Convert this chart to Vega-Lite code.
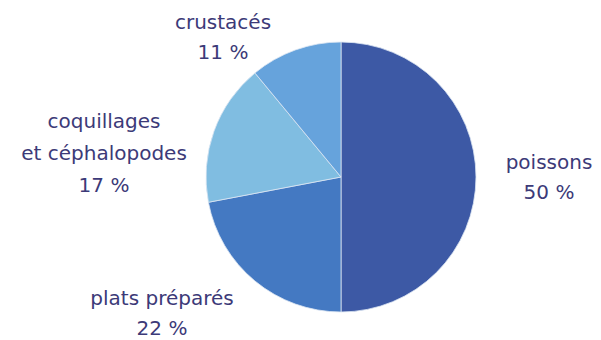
{
  "$schema": "https://vega.github.io/schema/vega-lite/v6.json",
  "width": 520,
  "height": 326,
  "autosize": {"type": "none"},
  "padding": {"left": 81, "top": 14, "right": 0, "bottom": 0},
  "background": "white",
  "view": {"stroke": null},
  "data": {
    "values": [
      {"cat": "poissons", "pct": 50, "ord": 1, "label": "poissons\n50 %"},
      {"cat": "plats préparés", "pct": 22, "ord": 2, "label": "plats préparés\n22 %"},
      {"cat": "coquillages et céphalopodes", "pct": 17, "ord": 3, "label": "coquillages\net céphalopodes\n17 %"},
      {"cat": "crustacés", "pct": 11, "ord": 4, "label": "crustacés\n11 %"}
    ]
  },
  "layer": [
    {
      "mark": {"type": "arc", "outerRadius": 135, "stroke": "#dce6f2", "strokeWidth": 0.8},
      "encoding": {
        "theta": {"field": "pct", "type": "quantitative", "stack": true},
        "order": {"field": "ord", "type": "quantitative"},
        "color": {
          "field": "cat", "type": "nominal", "legend": null,
          "scale": {
            "domain": ["poissons", "plats préparés", "coquillages et céphalopodes", "crustacés"],
            "range": ["#3d59a5", "#4479c2", "#80bde1", "#66a3dc"]
          }
        }
      }
    },
    {
      "transform": [{"filter": "datum.ord == 1"}],
      "mark": {"type": "text", "dx": 208, "dy": -14, "lineBreak": "\n", "lineHeight": 30, "fontSize": 20, "font": "DejaVu Sans", "color": "#3c3a78", "align": "center", "baseline": "middle"},
      "encoding": {"text": {"field": "label"}}
    },
    {
      "transform": [{"filter": "datum.ord == 2"}],
      "mark": {"type": "text", "dx": -179, "dy": 122, "lineBreak": "\n", "lineHeight": 30, "fontSize": 20, "font": "DejaVu Sans", "color": "#3c3a78", "align": "center", "baseline": "middle"},
      "encoding": {"text": {"field": "label"}}
    },
    {
      "transform": [{"filter": "datum.ord == 3"}],
      "mark": {"type": "text", "dx": -237, "dy": -55, "lineBreak": "\n", "lineHeight": 32, "fontSize": 20, "font": "DejaVu Sans", "color": "#3c3a78", "align": "center", "baseline": "middle"},
      "encoding": {"text": {"field": "label"}}
    },
    {
      "transform": [{"filter": "datum.ord == 4"}],
      "mark": {"type": "text", "dx": -118, "dy": -154, "lineBreak": "\n", "lineHeight": 30, "fontSize": 20, "font": "DejaVu Sans", "color": "#3c3a78", "align": "center", "baseline": "middle"},
      "encoding": {"text": {"field": "label"}}
    }
  ]
}
